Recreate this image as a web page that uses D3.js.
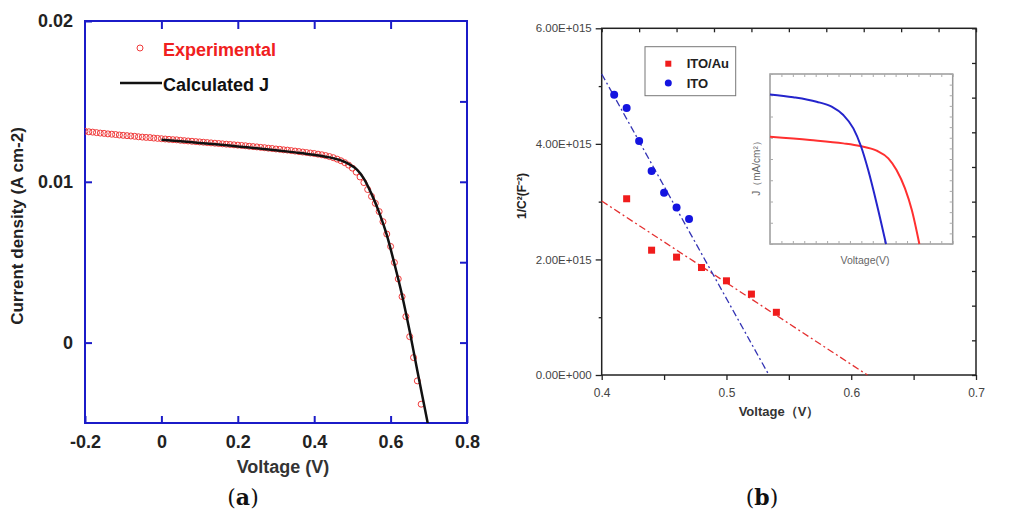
<!DOCTYPE html>
<html>
<head>
<meta charset="utf-8">
<script src="https://cdn.jsdelivr.net/npm/d3@7/dist/d3.min.js"></script>
<style>
  body { margin: 0; background: #fff; }
  text { font-family: Arial, "Liberation Sans", sans-serif; }
</style>
</head>
<body>
<svg width="1024" height="518"></svg>
<script>
// ---- panel (a) data ----
var expV = [-0.20,-0.19,-0.18,-0.17,-0.16,-0.15,-0.14,-0.13,-0.12,-0.11,-0.10,-0.09,-0.08,-0.07,-0.06,-0.05,-0.04,-0.03,-0.02,-0.01,
            0.00,0.01,0.02,0.03,0.04,0.05,0.06,0.07,0.08,0.09,0.10,0.11,0.12,0.13,0.14,0.15,0.16,0.17,0.18,0.19,
            0.20,0.21,0.22,0.23,0.24,0.25,0.26,0.27,0.28,0.29,0.30,0.31,0.32,0.33,0.34,0.35,0.36,0.37,0.38,0.39,
            0.40,0.41,0.42,0.43,0.44,0.45,0.46,0.47,0.48,0.49,0.50,0.51,0.52,0.53,0.54,0.55,0.56,0.57,0.58,0.59,
            0.60,0.61,0.62,0.63,0.64,0.65,0.66,0.67,0.68];
var expJ = [.01314,.01311,.01309,.01306,.01303,.01301,.01298,.01296,.01294,.01291,.01289,.01287,.01285,.01283,.01280,.01278,.01276,.01275,.01272,.01270,
            .01268,.01266,.01264,.01262,.01261,.01258,.01256,.01254,.01252,.01250,.01248,.01246,.01244,.01242,.01240,.01238,.01236,.01234,.01232,.01230,
            .01228,.01226,.01224,.01221,.01219,.01217,.01214,.01212,.01209,.01207,.01204,.01202,.01199,.01197,.01194,.01191,.01188,.01185,.01182,.01179,
            .01176,.01172,.01168,.01163,.01157,.01150,.01141,.01131,.01119,.01104,.01085,.01060,.01030,.00995,.00952,.00909,.00866,.00815,.00752,.00675,
            .00598,.00498,.00396,.00286,.00162,.00037,-.00093,-.00238,-.00383];
var calcV = [0.00,0.05,0.10,0.15,0.20,0.25,0.30,0.35,0.40,0.44,0.47,0.49,0.51,0.53,0.55,0.57,0.59,0.61,0.63,0.65,0.67,0.69,0.70];
var calcJ = [.01262,.01252,.01242,.01232,.01220,.01208,.01196,.01183,.01168,.01152,.01133,.01112,.01080,.01020,.00925,.00810,.00670,.00490,.00295,.00070,-.00175,-.00415,-.00535];
var aXTicks = [-0.2, 0, 0.2, 0.4, 0.6, 0.8];
var aYTicks = [0, 0.01, 0.02];
var aYLabels = ["0", "0.01", "0.02"];
var aRightTicks = [0, 0.005, 0.01, 0.015];

// ---- panel (b) data ----
var itoAuV = [0.42, 0.44, 0.46, 0.48, 0.50, 0.52, 0.54];
var itoAuC = [3.05e15, 2.16e15, 2.04e15, 1.86e15, 1.63e15, 1.40e15, 1.085e15];
var itoV = [0.41, 0.42, 0.43, 0.44, 0.45, 0.46, 0.47];
var itoC = [4.85e15, 4.62e15, 4.05e15, 3.53e15, 3.155e15, 2.90e15, 2.70e15];
var itoAuFitV = [0.40, 0.613], itoAuFitC = [3.01e15, 0];
var itoFitV = [0.40, 0.534], itoFitC = [5.21e15, 0];
var bXTicks = [0.4, 0.5, 0.6, 0.7];
var bXMinor = [0.45, 0.55, 0.65];
var bYTicks = [0, 2e15, 4e15, 6e15];
var bYLabels = ["0.00E+000", "2.00E+015", "4.00E+015", "6.00E+015"];
var bYMinor = [1e15, 3e15, 5e15];
// inset J-V curves
var insetItoV = [0, 0.102, 0.204, 0.270, 0.321, 0.365, 0.398, 0.430, 0.467, 0.508];
var insetItoJ = [14.08, 13.81, 13.39, 12.93, 12.14, 10.88, 9.22, 6.96, 3.82, 0];
var insetAuV = [0, 0.175, 0.321, 0.394, 0.467, 0.518, 0.554, 0.591, 0.621, 0.654];
var insetAuJ = [10.10, 9.79, 9.47, 9.22, 8.78, 8.06, 6.96, 5.23, 3.20, 0];

var svg = d3.select("svg");

// =================== panel (a) ===================
var blue = "#1b1bc8";
var ax = d3.scaleLinear().domain([-0.2, 0.8]).range([85, 467]);
var ay = d3.scaleLinear().domain([-0.005, 0.02]).range([423, 21]);
var ga = svg.append("g");

ga.append("clipPath").attr("id", "clipA").append("rect")
  .attr("x", 85).attr("y", 21).attr("width", 382).attr("height", 402);

function styleA(g) {
  g.selectAll("path.domain").remove();
  g.selectAll("line").attr("stroke", blue).attr("stroke-width", 2);
  g.selectAll("text").attr("font-size", 18).attr("font-weight", "bold").attr("fill", "#222");
}

ga.append("g").attr("transform", "translate(0,423)")
  .call(d3.axisBottom(ax).tickValues(aXTicks).tickSizeInner(-7).tickSizeOuter(0).tickPadding(12)
    .tickFormat(function(d) { return d === 0 ? "0" : d3.format(".1f")(d).replace("−", "-"); }))
  .call(styleA);
ga.append("g").attr("transform", "translate(0,21)")
  .call(d3.axisTop(ax).tickValues([0, 0.2, 0.4, 0.6]).tickSizeInner(-8).tickSizeOuter(0).tickFormat(""))
  .call(styleA);
ga.append("g").attr("transform", "translate(85,0)")
  .call(d3.axisLeft(ay).tickValues(aYTicks).tickSizeInner(-7).tickSizeOuter(0).tickPadding(12)
    .tickFormat(function(d, i) { return aYLabels[i]; }))
  .call(styleA);
ga.append("g").attr("transform", "translate(467,0)")
  .call(d3.axisRight(ay).tickValues(aRightTicks).tickSizeInner(-7).tickSizeOuter(0).tickFormat(""))
  .call(styleA);

ga.append("rect").attr("x", 85).attr("y", 21).attr("width", 382).attr("height", 402)
  .attr("fill", "none").attr("stroke", blue).attr("stroke-width", 2);

ga.append("g").attr("clip-path", "url(#clipA)")
  .selectAll("circle").data(expV).enter().append("circle")
  .attr("cx", function(d) { return ax(d); })
  .attr("cy", function(d, i) { return ay(expJ[i]); })
  .attr("r", 3)
  .attr("fill", "none").attr("stroke", "#f03a3a").attr("stroke-width", 1);

var calcLine = d3.line()
  .x(function(d) { return ax(d); })
  .y(function(d, i) { return ay(calcJ[i]); })
  .curve(d3.curveMonotoneX);
ga.append("path").datum(calcV).attr("clip-path", "url(#clipA)")
  .attr("d", calcLine).attr("fill", "none").attr("stroke", "#111").attr("stroke-width", 2.5);

// legend (a)
ga.append("circle").attr("cx", 140).attr("cy", 48).attr("r", 3)
  .attr("fill", "none").attr("stroke", "#f03a3a").attr("stroke-width", 1);
ga.append("text").attr("x", 163).attr("y", 56).attr("font-size", 18).attr("font-weight", "bold")
  .attr("fill", "#f02020").text("Experimental");
ga.append("line").attr("x1", 120).attr("x2", 162).attr("y1", 83).attr("y2", 83)
  .attr("stroke", "#111").attr("stroke-width", 2.5);
ga.append("text").attr("x", 163).attr("y", 91).attr("font-size", 18).attr("font-weight", "bold")
  .attr("fill", "#111").text("Calculated J");

// axis titles (a)
ga.append("text").attr("x", 283).attr("y", 473).attr("text-anchor", "middle")
  .attr("font-size", 18).attr("font-weight", "bold").attr("fill", "#333").text("Voltage (V)");
ga.append("text").attr("transform", "translate(23,226) rotate(-90)").attr("text-anchor", "middle")
  .attr("font-size", 17).attr("font-weight", "bold").attr("fill", "#222").text("Current density (A cm-2)");

// =================== panel (b) ===================
var bx = d3.scaleLinear().domain([0.4, 0.7]).range([601.7, 976]);
var by = d3.scaleLinear().domain([0, 6e15]).range([375, 28.3]);
var gb = svg.append("g");

function styleB(g) {
  g.selectAll("path.domain").remove();
  g.selectAll("line").attr("stroke", "#222").attr("stroke-width", 1.3);
  g.selectAll("text").attr("font-size", 12).attr("fill", "#444");
}

gb.append("g").attr("transform", "translate(0,375)")
  .call(d3.axisBottom(bx).tickValues(bXTicks).tickSize(5).tickPadding(8).tickFormat(d3.format(".1f")))
  .call(styleB);
gb.append("g").attr("transform", "translate(0,375)")
  .call(d3.axisBottom(bx).tickValues(bXMinor).tickSize(5).tickFormat(""))
  .call(styleB);
gb.append("g").attr("transform", "translate(601.7,0)")
  .call(d3.axisLeft(by).tickValues(bYTicks).tickSize(6).tickPadding(4)
    .tickFormat(function(d, i) { return bYLabels[i]; }))
  .call(styleB)
  .selectAll("text").attr("font-size", 11.5);
gb.append("g").attr("transform", "translate(601.7,0)")
  .call(d3.axisLeft(by).tickValues(bYMinor).tickSize(3).tickFormat(""))
  .call(styleB);

// top and right frame ticks (10 divisions, inward)
var bTop = d3.scaleLinear().domain([0, 10]).range([601.7, 976]);
var bRight = d3.scaleLinear().domain([0, 10]).range([375, 28.3]);
gb.append("g").attr("transform", "translate(0,28.3)")
  .call(d3.axisTop(bTop).ticks(10).tickSize(-4).tickFormat(""))
  .call(styleB);
gb.append("g").attr("transform", "translate(976,0)")
  .call(d3.axisRight(bRight).ticks(10).tickSize(-4).tickFormat(""))
  .call(styleB);

gb.append("rect").attr("x", 601.7).attr("y", 28.3).attr("width", 374.3).attr("height", 346.7)
  .attr("fill", "none").attr("stroke", "#222").attr("stroke-width", 1.5);

// fit lines
var fitLine = function(cs) {
  return d3.line().x(function(d) { return bx(d); }).y(function(d, i) { return by(cs[i]); });
};
gb.append("path").datum(itoAuFitV).attr("d", fitLine(itoAuFitC))
  .attr("fill", "none").attr("stroke", "#e43030").attr("stroke-width", 1.3).attr("stroke-dasharray", "7,3,2,3");
gb.append("path").datum(itoFitV).attr("d", fitLine(itoFitC))
  .attr("fill", "none").attr("stroke", "#3434b4").attr("stroke-width", 1.3).attr("stroke-dasharray", "7,3,2,3");

// points
gb.selectAll("rect.au").data(itoAuV).enter().append("rect").attr("class", "au")
  .attr("x", function(d) { return bx(d) - 3.5; })
  .attr("y", function(d, i) { return by(itoAuC[i]) - 3.5; })
  .attr("width", 7).attr("height", 7).attr("fill", "#f01c1c");
gb.selectAll("circle.ito").data(itoV).enter().append("circle").attr("class", "ito")
  .attr("cx", function(d) { return bx(d); })
  .attr("cy", function(d, i) { return by(itoC[i]); })
  .attr("r", 4).attr("fill", "#1414e0");

// legend (b)
gb.append("rect").attr("x", 645).attr("y", 46.7).attr("width", 90.7).attr("height", 49)
  .attr("fill", "#fff").attr("stroke", "#777").attr("stroke-width", 1);
gb.append("rect").attr("x", 665.3).attr("y", 60.7).attr("width", 6).attr("height", 6).attr("fill", "#f01c1c");
gb.append("circle").attr("cx", 668.3).attr("cy", 83).attr("r", 3.5).attr("fill", "#1414e0");
gb.append("text").attr("x", 686.7).attr("y", 68).attr("font-size", 13).attr("font-weight", "bold")
  .attr("fill", "#222").text("ITO/Au");
gb.append("text").attr("x", 686.7).attr("y", 87.5).attr("font-size", 13).attr("font-weight", "bold")
  .attr("fill", "#222").text("ITO");

// titles (b)
gb.append("text").attr("x", 779).attr("y", 416).attr("text-anchor", "middle")
  .attr("font-size", 13).attr("font-weight", "bold").attr("fill", "#333").text("Voltage（V）");
gb.append("text").attr("transform", "translate(526,196) rotate(-90)").attr("text-anchor", "middle")
  .attr("font-size", 12).attr("font-weight", "bold").attr("fill", "#222")
  .text("1/C²(F⁻²)");

// inset
var ix = d3.scaleLinear().domain([0, 0.8]).range([770, 952.7]);
var iy = d3.scaleLinear().domain([0, 16]).range([244, 74]);
var gi = gb.append("g");
gi.append("rect").attr("x", 770).attr("y", 74).attr("width", 182.7).attr("height", 170)
  .attr("fill", "#fff").attr("stroke", "#9a9a9a").attr("stroke-width", 1.5);

function styleI(g) {
  g.selectAll("path.domain").remove();
  g.selectAll("line").attr("stroke", "#aaa").attr("stroke-width", 1);
}
var iTop = d3.scaleLinear().domain([0, 16]).range([770, 952.7]);
var iLeft = d3.scaleLinear().domain([0, 8]).range([244, 74]);
var iRight = d3.scaleLinear().domain([0, 16]).range([244, 74]);
gi.append("g").attr("transform", "translate(0,74)").call(d3.axisTop(iTop).ticks(16).tickSize(-3).tickFormat("")).call(styleI);
gi.append("g").attr("transform", "translate(0,244)").call(d3.axisBottom(iTop).ticks(16).tickSize(-3).tickFormat("")).call(styleI);
gi.append("g").attr("transform", "translate(770,0)").call(d3.axisLeft(iLeft).ticks(8).tickSize(-3).tickFormat("")).call(styleI);
gi.append("g").attr("transform", "translate(952.7,0)").call(d3.axisRight(iRight).ticks(16).tickSize(-3).tickFormat("")).call(styleI);

var insetLine = function(js) {
  return d3.line().x(function(d) { return ix(d); }).y(function(d, i) { return iy(js[i]); })
    .curve(d3.curveMonotoneX);
};
gi.append("path").datum(insetAuV).attr("d", insetLine(insetAuJ))
  .attr("fill", "none").attr("stroke", "#ff3030").attr("stroke-width", 2);
gi.append("path").datum(insetItoV).attr("d", insetLine(insetItoJ))
  .attr("fill", "none").attr("stroke", "#2424cc").attr("stroke-width", 2);

gi.append("text").attr("x", 865).attr("y", 264).attr("text-anchor", "middle")
  .attr("font-size", 10.5).attr("fill", "#666").text("Voltage(V)");
gi.append("text").attr("transform", "translate(760,166) rotate(-90)").attr("text-anchor", "middle")
  .attr("font-size", 10).attr("fill", "#666").text("J（mA/cm²）");

// panel captions
svg.append("text").attr("x", 243).attr("y", 505).attr("text-anchor", "middle")
  .style("font-family", "'DejaVu Serif', 'Liberation Serif', serif").attr("font-size", 22).attr("fill", "#111")
  .html("(<tspan font-weight='bold'>a</tspan>)");
svg.append("text").attr("x", 762).attr("y", 505).attr("text-anchor", "middle")
  .style("font-family", "'DejaVu Serif', 'Liberation Serif', serif").attr("font-size", 22).attr("fill", "#111")
  .html("(<tspan font-weight='bold'>b</tspan>)");
</script>
</body>
</html>
